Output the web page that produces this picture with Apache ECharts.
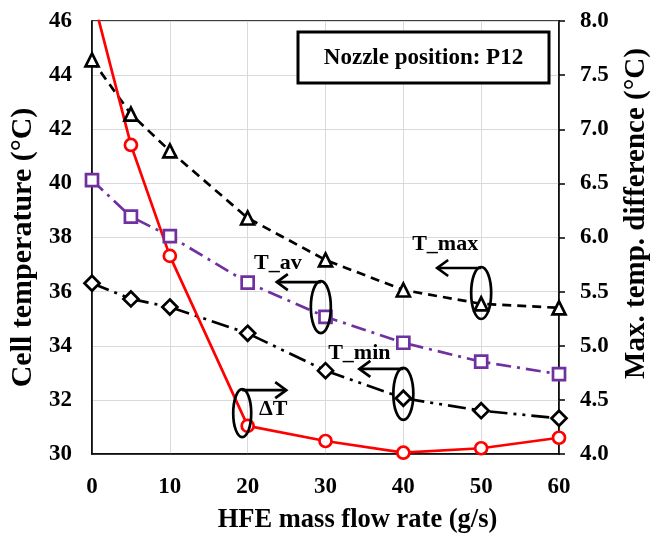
<!DOCTYPE html>
<html>
<head>
<meta charset="utf-8">
<script src="https://cdn.jsdelivr.net/npm/echarts@6/dist/echarts.min.js"></script>
<style>
  html, body { margin: 0; padding: 0; background: #fff; }
  #chart { width: 651px; height: 536px; }
</style>
</head>
<body>
<div id="chart"></div>
<script>
// HFE mass flow rate (g/s)
const flowRates = [0, 5, 10, 20, 30, 40, 50, 60];
// Cell temperatures (°C), left axis
const tMax = [44.56, 42.56, 41.2, 38.72, 37.17, 36.06, 35.55, 35.4];
const tAv  = [40.12, 38.77, 38.05, 36.33, 35.07, 34.11, 33.41, 32.95];
const tMin = [36.31, 35.73, 35.43, 34.46, 33.08, 32.06, 31.6, 31.32];
// Max. temperature difference (°C), right axis
const deltaT = [8.25, 6.855, 5.83, 4.26, 4.12, 4.012, 4.053, 4.15];

const FONT = '"Liberation Serif", "DejaVu Serif", serif';
const PURPLE = '#7030A0';

const pairs = arr => flowRates.map((x, i) => [x, arr[i]]);

const chart = echarts.init(document.getElementById('chart'));

function lineSeries(name, data, color, dash, symbol, size, yAxisIndex) {
  return {
    name, type: 'line', data: pairs(data), yAxisIndex,
    symbol, symbolSize: size, showSymbol: true, clip: true,
    lineStyle: { color, width: 2.7, type: dash },
    itemStyle: { color: '#fff', borderColor: color, borderWidth: 2.7 },
    z: 3
  };
}

const nameStyle = (size, padding) => ({ fontFamily: FONT, fontWeight: 'bold', fontSize: size, color: '#000', padding });
const tickStyle = { fontFamily: FONT, fontWeight: 'bold', fontSize: 23, color: '#000' };

chart.setOption({
  animation: false,
  backgroundColor: '#fff',
  grid: {
    left: 92, top: 21, right: 92, bottom: 82, containLabel: false, outerBoundsMode: 'none',
    show: true, borderColor: '#000', borderWidth: 1.5, backgroundColor: 'transparent'
  },
  xAxis: {
    type: 'value', min: 0, max: 60, interval: 10,
    name: 'HFE mass flow rate (g/s)', nameLocation: 'middle', nameGap: 53,
    nameTextStyle: nameStyle(26.5, [0, 0, 0, 64]),
    axisLine: { show: true, lineStyle: { color: '#000', width: 1.5 } },
    axisTick: { show: false },
    axisLabel: Object.assign({ margin: 22 }, tickStyle),
    splitLine: { show: true, lineStyle: { color: '#d9d9d9', width: 1 } }
  },
  yAxis: [
    {
      type: 'value', min: 30, max: 46, interval: 2, position: 'left',
      name: 'Cell temperature (°C)', nameLocation: 'middle', nameGap: 49,
      nameTextStyle: nameStyle(30, [0, 20, 0, 0]),
      axisLine: { show: true, lineStyle: { color: '#000', width: 1.5 } },
      axisTick: { show: false },
      axisLabel: Object.assign({ margin: 20 }, tickStyle),
      splitLine: { show: true, lineStyle: { color: '#d9d9d9', width: 1 } }
    },
    {
      type: 'value', min: 4, max: 8, interval: 0.5, position: 'right',
      name: 'Max. temp. difference (°C)', nameLocation: 'middle', nameGap: 63,
      nameTextStyle: nameStyle(29, [0, 0, 0, 48]),
      axisLine: { show: true, lineStyle: { color: '#000', width: 1.5 } },
      axisTick: { show: true, length: 6, lineStyle: { color: '#000', width: 1.5 } },
      axisLabel: Object.assign({ margin: 21, formatter: v => v.toFixed(1) }, tickStyle),
      splitLine: { show: false }
    }
  ],
  series: [
    lineSeries('T_max', tMax, '#000', [9, 6], 'triangle', 13, 0),
    lineSeries('T_av', tAv, PURPLE, [15, 6, 3, 6], 'rect', 12, 0),
    lineSeries('T_min', tMin, '#000', [18, 6, 3, 6, 3, 6], 'diamond', 15, 0),
    lineSeries('ΔT', deltaT, '#ff0000', 'solid', 'circle', 12, 1)
  ]
});

// Callout annotations: ellipse around a marker, arrow toward its axis, label
const callouts = [
  { text: 'T_max', at: [50, 35.95], axis: 0, dir: -1, rx: 10, ry: 26, label: [-36, -49] },
  { text: 'T_av',  at: [29.4, 35.43], axis: 0, dir: -1, rx: 10, ry: 26, label: [-43, -44] },
  { text: 'T_min', at: [40, 32.22], axis: 0, dir: -1, rx: 10, ry: 26, label: [-44, -41] },
  { text: 'ΔT',    at: [19.3, 31.51], axis: 0, dir: 1, rx: 9, ry: 24, label: [31, -4] }
];

const graphics = [];
callouts.forEach(c => {
  const [cx, cy] = chart.convertToPixel({ xAxisIndex: 0, yAxisIndex: c.axis }, c.at);
  const ay = cy - c.ry + 1;
  const ex = cx + c.dir * 44;
  const style = { stroke: '#000', lineWidth: 2.7, fill: null };
  graphics.push({ type: 'ellipse', shape: { cx, cy, rx: c.rx, ry: c.ry }, style, z: 10 });
  graphics.push({ type: 'line', shape: { x1: cx, y1: ay, x2: ex, y2: ay }, style, z: 10 });
  graphics.push({ type: 'polyline', shape: { points: [[ex - c.dir * 11, ay - 8], [ex, ay], [ex - c.dir * 11, ay + 8]] }, style, z: 10 });
  graphics.push({
    type: 'text', x: cx + c.label[0], y: cy + c.label[1], z: 10,
    style: { text: c.text, fontFamily: FONT, fontWeight: 'bold', fontSize: 22, fill: '#000', align: 'center', verticalAlign: 'middle' }
  });
});

// Nozzle position box
graphics.push({ type: 'rect', shape: { x: 298, y: 32, width: 251, height: 51 }, style: { stroke: '#000', lineWidth: 3, fill: '#fff' }, z: 10 });
graphics.push({
  type: 'text', x: 423.5, y: 58, z: 11,
  style: { text: 'Nozzle position: P12', fontFamily: FONT, fontWeight: 'bold', fontSize: 23, fill: '#000', align: 'center', verticalAlign: 'middle' }
});

chart.setOption({ graphic: graphics });
</script>
</body>
</html>
